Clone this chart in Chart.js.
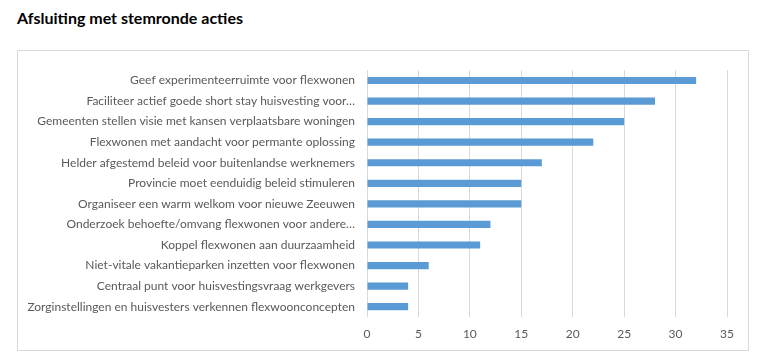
<!DOCTYPE html>
<html>
<head>
<meta charset="utf-8">
<script src="https://cdn.jsdelivr.net/npm/chart.js@4/dist/chart.umd.min.js"></script>
<style>
  html, body { margin: 0; padding: 0; background: #fff; }
  body { width: 768px; height: 356px; position: relative; overflow: hidden; }
  #title { position: absolute; left: 17px; top: 8px; line-height: 20px; font-family: Lato, sans-serif; font-weight: bold; font-size: 16px; color: #000; white-space: nowrap; }
  #box { position: absolute; left: 17px; top: 50px; width: 730px; height: 299px; border: 1px solid #d9d9d9; }
  #box canvas { display: block; }
</style>
</head>
<body>
<div id="title">Afsluiting met stemronde acties</div>
<div id="box"><canvas id="c" width="730" height="299"></canvas></div>
<script>
const categories = [
  "Geef experimenteerruimte voor flexwonen",
  "Faciliteer actief goede short stay huisvesting voor…",
  "Gemeenten stellen visie met kansen verplaatsbare woningen",
  "Flexwonen met aandacht voor permante oplossing",
  "Helder afgestemd beleid voor buitenlandse werknemers",
  "Provincie moet eenduidig beleid stimuleren",
  "Organiseer een warm welkom voor nieuwe Zeeuwen",
  "Onderzoek behoefte/omvang flexwonen voor andere…",
  "Koppel flexwonen aan duurzaamheid",
  "Niet-vitale vakantieparken inzetten voor flexwonen",
  "Centraal punt voor huisvestingsvraag werkgevers",
  "Zorginstellingen en huisvesters verkennen flexwoonconcepten"
];
const votes = [32, 28, 25, 22, 17, 15, 15, 12, 11, 6, 4, 4];
const xMin = 0, xMax = 35, xStep = 5;

new Chart(document.getElementById('c'), {
  type: 'bar',
  data: {
    labels: categories,
    datasets: [{
      data: votes,
      backgroundColor: '#5B9BD5',
      borderWidth: 0,
      barPercentage: 0.35,
      categoryPercentage: 1.0
    }]
  },
  options: {
    indexAxis: 'y',
    responsive: false,
    animation: false,
    events: [],
    layout: { padding: { left: 0, right: 21, top: 16, bottom: 0 } },
    plugins: { legend: { display: false }, tooltip: { enabled: false }, title: { display: false } },
    scales: {
      x: {
        min: xMin, max: xMax,
        ticks: { stepSize: xStep, color: '#595959', font: { family: 'Lato', size: 12 }, padding: 10 },
        grid: { color: '#d9d9d9', drawTicks: false, lineWidth: 1 },
        border: { display: false },
        afterFit: (s) => { s.height = 33; }
      },
      y: {
        ticks: { color: '#595959', font: { family: 'Lato', size: 12 }, padding: 12, autoSkip: false },
        grid: { display: false, drawTicks: false },
        border: { display: false },
        afterFit: (s) => { s.width = 349; }
      }
    }
  }
});
</script>
</body>
</html>
